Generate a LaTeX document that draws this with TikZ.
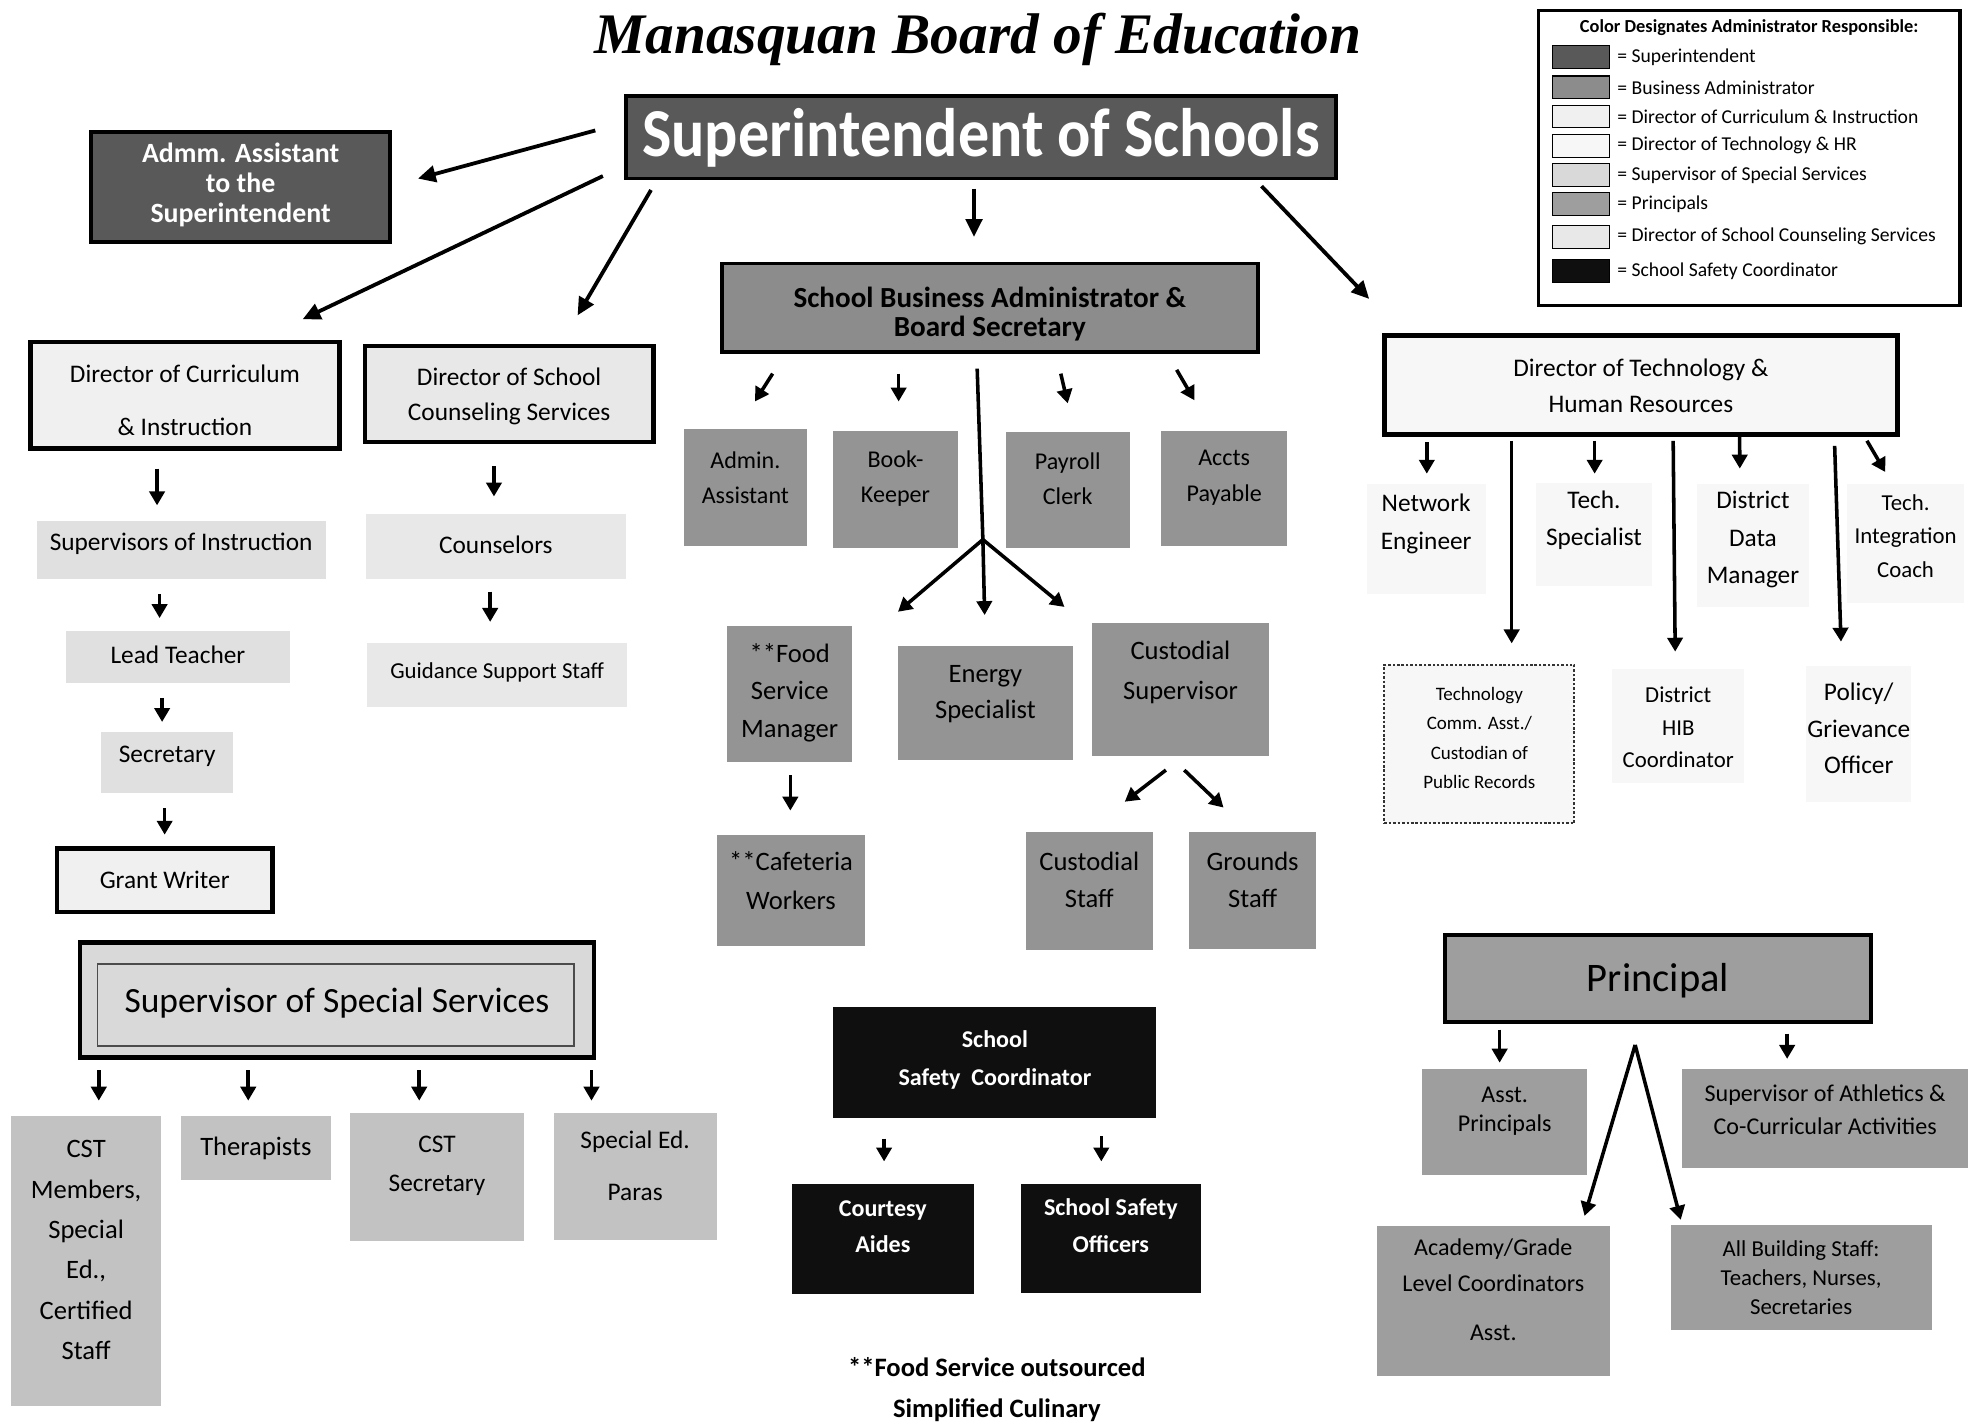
\documentclass[tikz,border=0pt]{standalone}
\usepackage{fontspec}
\setmainfont{Carlito}
\newfontfamily\titlefont{Liberation Serif}
\usepackage{graphicx}
\usetikzlibrary{arrows.meta,calc}
\newcommand\fs[2]{\fontsize{#1}{#2}\selectfont}
\definecolor{supfill}{gray}{0.35}
\definecolor{bizfill}{gray}{0.55}
\definecolor{bizkid}{gray}{0.58}
\definecolor{curfill}{gray}{0.94}
\definecolor{curkid}{gray}{0.88}
\definecolor{techfill}{gray}{0.97}
\definecolor{spedfill}{gray}{0.85}
\definecolor{spedkid}{gray}{0.76}
\definecolor{prinfill}{gray}{0.62}
\definecolor{counsfill}{gray}{0.91}
\definecolor{safefill}{gray}{0.06}
\tikzset{
  box/.style={rectangle, inner sep=0pt, outer sep=0pt},
  txt/.style={align=center, inner sep=0pt, outer sep=0pt, text=black},
  arr/.style={line width=2.8pt, -{Triangle[length=11pt,width=12pt]}},
  bigarr/.style={line width=3pt, -{Triangle[length=14pt,width=13pt]}},
}
% style, name, x1, y1, x2, y2, text y, text options, text
\newcommand\obox[9]{%
  \node[box,#1,minimum width={#5-#3},minimum height={#6-#4}] (#2) at ({(#3+#5)/2},{(#4+#6)/2}) {};
  \node[txt,#8] (#2-t) at ({(#3+#5)/2},#7) {#9};}
\begin{document}
\begin{tikzpicture}[x=1pt,y=-1pt]
\fill[white] (0,0) rectangle (1568,1124);
\useasboundingbox (0,0) rectangle (1568,1124);

% title
\node[inner sep=0pt] (title) at (772,31) {\resizebox{605pt}{!}{\titlefont\bfseries\itshape Manasquan Board of Education}};

% legend
\node[box, draw=black, line width=2.5pt, minimum width=333, minimum height=233] (legbox) at (1381,124.5) {};
\node[txt, font={\fs{14.5}{16}\bfseries}] (legh) at (1381,22) {Color Designates Administrator Responsible:};
\foreach \i/\y/\c/\t in {1/45/supfill/Superintendent, 2/69/bizfill/Business Administrator, 3/92/curfill/Director of Curriculum \& Instruction, 4/115/techfill/Director of Technology \& HR, 5/138/spedfill/Supervisor of Special Services, 6/161/prinfill/Principals, 7/187/counsfill/Director of School Counseling Services, 8/214/safefill/School Safety Coordinator}{
  \node[box, fill=\c, draw=black, line width=0.8pt, minimum width=45, minimum height=18] (leg\i) at (1248.5,\y) {};
  \node[txt, anchor=west, font={\fs{15.5}{17}}] (legt\i) at (1277,\y) {= \t};
}

% top level
\obox{fill=supfill,draw=black,line width=3pt}{sup}{494}{76}{1055}{141}{109}{}{\resizebox{535pt}{38pt}{\color{white}\bfseries Superintendent of Schools}}
\obox{fill=supfill,draw=black,line width=3pt}{admm}{72}{104}{308}{191}{146}{font={\fs{22}{24}\bfseries},text=white}{Admm. Assistant\\to the\\Superintendent}
\obox{fill=curfill,draw=black,line width=3.5pt}{curr}{24}{270}{268}{354}{316}{font={\fs{20}{42}}}{Director of Curriculum\\\& Instruction}
\obox{fill=counsfill,draw=black,line width=3.5pt}{couns}{288}{273}{516}{349}{313}{font={\fs{20}{27}}}{Director of School\\Counseling Services}
\obox{fill=bizfill,draw=black,line width=3pt}{sba}{570}{208}{993}{278}{248}{font={\fs{23}{23}\bfseries}}{School Business Administrator \&\\Board Secretary}
\obox{fill=techfill,draw=black,line width=3.5pt}{techdir}{1093}{265}{1498}{343}{304.5}{font={\fs{20}{29}}}{Director of Technology \&\\Human Resources}

% business administrator
\obox{fill=bizkid}{adminasst}{540}{339}{637}{431}{377}{font={\fs{19}{28}}}{Admin.\\Assistant}
\obox{fill=bizkid}{bookkeeper}{658}{340}{756}{433}{378}{font={\fs{19}{28}}}{Book-\\Keeper}
\obox{fill=bizkid}{payroll}{794}{341}{892}{433}{378}{font={\fs{19}{28}}}{Payroll\\Clerk}
\obox{fill=bizkid}{accts}{917}{340}{1016}{431}{377}{font={\fs{19}{28}}}{Accts\\Payable}
\obox{fill=bizkid}{food}{574}{494}{673}{602}{547}{font={\fs{21}{29.5}}}{**Food\\Service\\Manager}
\obox{fill=bizkid}{energy}{709}{510}{847}{600}{548}{font={\fs{21}{28}}}{Energy\\Specialist}
\obox{fill=bizkid}{custsup}{862}{492}{1002}{597}{531}{font={\fs{21}{32}}}{Custodial\\Supervisor}
\obox{fill=bizkid}{caf}{566}{659}{683}{747}{695.5}{font={\fs{21}{31}}}{**Cafeteria\\Workers}
\obox{fill=bizkid}{custstaff}{810}{657}{910}{750}{694.5}{font={\fs{21}{29}}}{Custodial\\Staff}
\obox{fill=bizkid}{grounds}{939}{657}{1039}{749}{694.5}{font={\fs{21}{29}}}{Grounds\\Staff}

% safety
\obox{fill=safefill}{safety}{658}{795}{913}{883}{837}{font={\fs{19}{30}\bfseries},text=white}{School\\Safety\ \ Coordinator}
\obox{fill=safefill}{courtesy}{625}{935}{769}{1022}{968.5}{font={\fs{19}{29}\bfseries},text=white}{Courtesy\\Aides}
\obox{fill=safefill}{sso}{806}{935}{948}{1021}{967.5}{font={\fs{19}{29}\bfseries},text=white}{School Safety\\Officers}
\node[txt, font={\fs{21}{32}\bfseries}] (foot) at (787,1097) {**Food Service outsourced\\Simplified Culinary};

% curriculum
\obox{fill=curkid}{supinstr}{29}{411}{257}{457}{429.5}{font={\fs{20}{24}}}{Supervisors of Instruction}
\obox{fill=curkid}{lead}{52}{498}{229}{539}{517}{font={\fs{20}{24}}}{Lead Teacher}
\obox{fill=curkid}{secretary}{80}{578}{184}{626}{597}{font={\fs{20}{24}}}{Secretary}
\obox{fill=curfill,draw=black,line width=3.5pt}{grant}{45}{670}{215}{720}{694.5}{font={\fs{20}{24}}}{Grant Writer}

% counseling
\obox{fill=counsfill}{counselors}{289}{406}{494}{457}{430.5}{font={\fs{20}{24}}}{Counselors}
\obox{fill=counsfill}{guidance}{290}{508}{495}{558}{531}{font={\fs{18}{22}}}{Guidance Support Staff}

% special services
\obox{fill=spedfill,draw=black,line width=3.5pt}{spec}{63}{744}{469}{835}{792}{font={\fs{28}{30}}}{Supervisor of Special Services}
\node[box, draw=black!70, line width=1.2pt, minimum width=376, minimum height=65] (specin) at (265,793.5) {};
\obox{fill=spedkid}{cst}{9}{881}{127}{1110}{987}{font={\fs{21}{31.8}}}{CST\\Members,\\Special\\Ed.,\\Certified\\Staff}
\obox{fill=spedkid}{therapists}{143}{881}{261}{932}{907}{font={\fs{21}{24}}}{Therapists}
\obox{fill=spedkid}{cstsec}{276}{879}{414}{980}{920.5}{font={\fs{20}{31}}}{CST\\Secretary}
\obox{fill=spedkid}{sped}{437}{879}{566}{979}{920.5}{font={\fs{20}{41}}}{Special Ed.\\Paras}

% technology
\obox{fill=techfill}{network}{1079}{382}{1173}{469}{414}{font={\fs{20}{30}}}{Network\\Engineer}
\obox{fill=techfill}{techspec}{1213}{381}{1304}{463}{410.5}{font={\fs{20}{29}}}{Tech.\\Specialist}
\obox{fill=techfill}{datamgr}{1340}{382}{1428}{479}{426}{font={\fs{20}{29.5}}}{District\\Data\\Manager}
\obox{fill=techfill}{techint}{1458}{382}{1551}{476}{423}{font={\fs{18}{26.5}}}{Tech.\\Integration\\Coach}
\obox{fill=techfill,draw=black!80,line width=1.5pt,dash pattern=on 2pt off 1.5pt}{techcomm}{1093}{525}{1243}{650}{582.75}{font={\fs{15}{23.3}}}{Technology\\Comm. Asst./\\Custodian of\\Public Records}
\obox{fill=techfill}{hib}{1273}{528}{1377}{618}{574.3}{font={\fs{18}{25.5}}}{District\\HIB\\Coordinator}
\obox{fill=techfill}{policy}{1426}{526}{1509}{633}{575}{font={\fs{20}{29}}}{Policy/\\Grievance\\Officer}

% principal
\obox{fill=prinfill,draw=black,line width=3.5pt}{principal}{1141}{738}{1477}{807}{774}{font={\fs{32}{34}}}{Principal}
\obox{fill=prinfill}{asstp}{1123}{844}{1253}{928}{877.5}{font={\fs{19}{23}}}{Asst.\\Principals}
\obox{fill=prinfill}{athletics}{1328}{844}{1554}{922}{876}{font={\fs{19}{26}}}{Supervisor of Athletics \&\\Co-Curricular Activities}
\obox{fill=prinfill}{academy}{1087}{968}{1271}{1086}{1018}{font={\fs{19}{29}}}{Academy/Grade\\Level Coordinators\\[9pt]Asst.}
\obox{fill=prinfill}{allstaff}{1319}{967}{1525}{1050}{1009}{font={\fs{18}{23}}}{All Building Staff:\\Teachers, Nurses,\\Secretaries}

% connectors from superintendent
\draw[bigarr] ([shift={(-24,-5.5)}]sup.west) -- ([shift={(22,-6.5)}]admm.east);
\draw[bigarr] ([shift={(-18,-2)}]sup.south west) -- ([shift={(93,-18)}]curr.north);
\draw[bigarr] ([shift={(20,9)}]sup.south west) -- ([shift={(54,-24)}]couns.north);
\draw[bigarr] ([shift={(-5.5,8)}]sup.south) -- ([shift={(-12.5,-21)}]sba.north);
\draw[bigarr] ([shift={(-59,6)}]sup.south east) -- ([shift={(-12,-29)}]techdir.north west);

% business administrator
\draw[arr] ([shift={(-171.5,17)}]sba.south) -- ([shift={(7.5,-22)}]adminasst.north);
\draw[arr] ([shift={(-72,17)}]sba.south) -- ([shift={(2.5,-23)}]bookkeeper.north);
\draw[arr] ([shift={(56,17)}]sba.south) -- ([shift={(0,-22.5)}]payroll.north);
\draw[arr] ([shift={(147.5,14)}]sba.south) -- ([shift={(-23.5,-24)}]accts.north);
\coordinate (br) at ([shift={(-5.5,148)}]sba.south);
\draw[line width=2.8pt] ([shift={(-10,13)}]sba.south) -- (br);
\draw[arr] (br) -- ([shift={(36,-11)}]food.north east);
\draw[arr] (br) -- ([shift={(-0.6,-24.4)}]energy.north);
\draw[arr] (br) -- ([shift={(-21.6,-12.8)}]custsup.north west);
\draw[arr] ([shift={(0.5,10)}]food.south) -- ([shift={(-0.5,-19)}]caf.north);
\draw[arr] ([shift={(-11.5,11)}]custsup.south) -- ([shift={(28,-24)}]custstaff.north);
\draw[arr] ([shift={(3,11)}]custsup.south) -- ([shift={(-23,-19.4)}]grounds.north);

% safety
\draw[arr] ([shift={(-87.5,16)}]safety.south) -- ([shift={(1,-18)}]courtesy.north);
\draw[arr] ([shift={(84,14)}]safety.south) -- ([shift={(-7.5,-18)}]sso.north);

% curriculum and counseling
\draw[arr] ([shift={(-22,16)}]curr.south) -- ([shift={(-19,-12)}]supinstr.north);
\draw[arr] ([shift={(-17,12)}]supinstr.south) -- ([shift={(-14.5,-10)}]lead.north);
\draw[arr] ([shift={(-12.5,12)}]lead.south) -- ([shift={(-4,-8)}]secretary.north);
\draw[arr] ([shift={(-2,12)}]secretary.south) -- ([shift={(0,-11)}]grant.north);
\draw[arr] ([shift={(-12,19)}]couns.south) -- ([shift={(-1.5,-14)}]counselors.north);
\draw[arr] ([shift={(-4.5,10)}]counselors.south) -- ([shift={(-5.5,-17)}]guidance.north);

% special services
\draw[arr] ([shift={(-188,10)}]spec.south) -- ([shift={(10,-12)}]cst.north);
\draw[arr] ([shift={(-70,10)}]spec.south) -- ([shift={(-6,-12)}]therapists.north);
\draw[arr] ([shift={(65,10)}]spec.south) -- ([shift={(-14,-10)}]cstsec.north);
\draw[arr] ([shift={(201,10)}]spec.south) -- ([shift={(-34.5,-10)}]sped.north);

% technology
\draw[arr] ([shift={(-169,6)}]techdir.south) -- ([shift={(0.5,-8)}]network.north);
\draw[arr] ([shift={(-102,5)}]techdir.south) -- ([shift={(25.5,-17)}]techcomm.north);
\draw[arr] ([shift={(-36.5,5)}]techdir.south) -- ([shift={(0.5,-7)}]techspec.north);
\draw[arr] ([shift={(25.5,5)}]techdir.south) -- ([shift={(-2.4,-13.5)}]hib.north);
\draw[arr] ([shift={(78,2)}]techdir.south) -- ([shift={(-10.4,-12)}]datamgr.north);
\draw[arr] ([shift={(153,9)}]techdir.south) -- ([shift={(-14,-19.4)}]policy.north);
\draw[arr] ([shift={(178.5,5)}]techdir.south) -- ([shift={(-16,-9.3)}]techint.north);

% principal
\draw[arr] ([shift={(-125,6)}]principal.south) -- ([shift={(-4,-5)}]asstp.north);
\draw[arr] ([shift={(102,9)}]principal.south) -- ([shift={(-30,-8)}]athletics.north);
\coordinate (apex) at ([shift={(-18,18)}]principal.south);
\draw[arr] (apex) -- ([shift={(72,-8)}]academy.north);
\draw[arr] (apex) -- ([shift={(-95,-4)}]allstaff.north);
\end{tikzpicture}
\end{document}
